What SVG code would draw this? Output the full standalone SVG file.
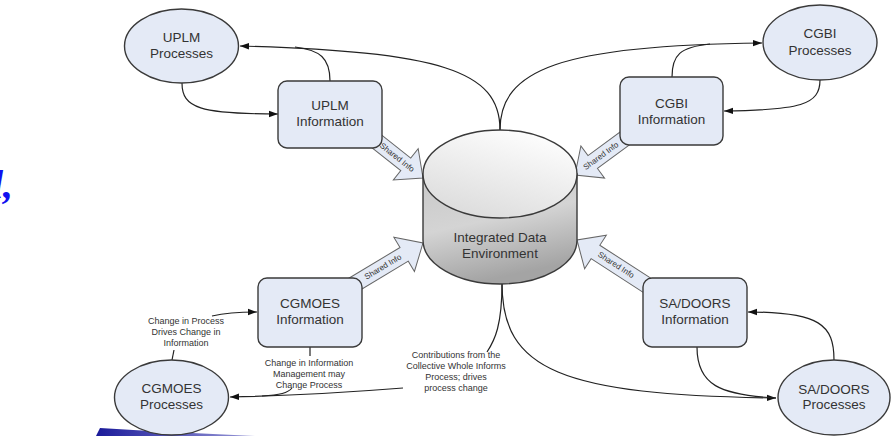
<svg xmlns="http://www.w3.org/2000/svg" width="891" height="436" viewBox="0 0 891 436">
<defs>
<style>
.node{fill:#e4eaf6;stroke:#3a3a3a;stroke-width:1.4}
.lbl{font-family:"Liberation Sans",Arial,sans-serif;font-size:13.5px;fill:#333;text-anchor:middle}
.small{font-family:"Liberation Sans",Arial,sans-serif;font-size:9px;fill:#333;text-anchor:middle}
.si{font-family:"Liberation Sans",Arial,sans-serif;font-size:8px;fill:#333;text-anchor:middle;dominant-baseline:central}
.con{fill:none;stroke:#222;stroke-width:1.2}
.blk{fill:#e4eaf6;stroke:#666;stroke-width:1}
</style>
<marker id="ah" markerUnits="userSpaceOnUse" markerWidth="10" markerHeight="8" refX="9" refY="4" orient="auto">
<path d="M0,0.8 L9,4 L0,7.2 Z" fill="#111"/>
</marker>
<polygon id="blockArrow" points="-90,-8 -22,-8 -22,-20 0,0 -22,20 -22,8 -90,8"/>
<linearGradient id="gTop" x1="0.8" y1="0" x2="0.3" y2="1">
<stop offset="0" stop-color="#ffffff"/>
<stop offset="1" stop-color="#dcdcdc"/>
</linearGradient>
<linearGradient id="gBody" x1="0" y1="0" x2="0.3" y2="1">
<stop offset="0" stop-color="#c8c8c8"/>
<stop offset="0.5" stop-color="#d4d4d4"/>
<stop offset="1" stop-color="#a4a4a4"/>
</linearGradient>
<linearGradient id="gSw" x1="0" y1="0" x2="1" y2="0">
<stop offset="0" stop-color="#1a1a9a"/>
<stop offset="1" stop-color="#9a9ad8"/>
</linearGradient>
</defs>
<rect width="891" height="436" fill="#ffffff"/>

<text x="-8" y="198" font-family="'Liberation Serif',serif" font-style="italic" font-weight="bold" font-size="40" fill="#1010f0">l,</text>
<polygon points="96,436 100,428 150,431 255,436" fill="url(#gSw)"/>

<g id="connectors">
<path class="con" d="M500,130 C500,70 440,52 240,46" marker-end="url(#ah)"/>
<path class="con" d="M500,130 C500,70 560,45 762,43" marker-end="url(#ah)"/>
<path class="con" d="M330,81 C330,58 320,50 295,47"/>
<path class="con" d="M672,77 C672,55 680,47 710,44"/>
<path class="con" d="M182,83 C182,108 200,114 278,114" marker-end="url(#ah)"/>
<path class="con" d="M820,80 C820,105 800,110 724,111" marker-end="url(#ah)"/>
<path class="con" d="M502,283 C502,325 495,340 487,352"/>
<path class="con" d="M502,283 C502,370 560,395 776,398" marker-end="url(#ah)"/>
<path class="con" d="M697,347 C697,385 720,395 776,398"/>
<path class="con" d="M834,360 C834,325 820,312 748,312" marker-end="url(#ah)"/>
<path class="con" d="M403,388 C340,393 280,396 230,397" marker-end="url(#ah)"/>
<path class="con" d="M292,388 C288,393 280,395 262,396"/>
<path class="con" d="M310,347 L310,356"/>
<path class="con" d="M172,360 L174,350"/>
<path class="con" d="M212,316 C225,313 240,312 257,312" marker-end="url(#ah)"/>

<use href="#blockArrow" class="blk" transform="translate(423,178) rotate(38.4)"/>
<use href="#blockArrow" class="blk" transform="translate(575,175) rotate(143.7)"/>
<use href="#blockArrow" class="blk" transform="translate(423,243) rotate(-31)"/>
<use href="#blockArrow" class="blk" transform="translate(577,240) rotate(-147.1)"/>

<text class="small" x="456" y="358">Contributions from the</text>
<text class="small" x="456" y="369">Collective Whole Informs</text>
<text class="small" x="456" y="380">Process; drives</text>
<text class="small" x="456" y="391">process change</text>

<text class="small" x="186" y="324">Change in Process</text>
<text class="small" x="186" y="335">Drives Change in</text>
<text class="small" x="186" y="346">Information</text>

<text class="small" x="309" y="366">Change in Information</text>
<text class="small" x="309" y="377">Management may</text>
<text class="small" x="309" y="388">Change Process</text>
</g>

<g id="ide">
<path d="M423,174 L423,240 A77,44 0 0 0 577,240 L577,174 Z" fill="url(#gBody)" stroke="#3a3a3a" stroke-width="1.4"/>
<ellipse cx="500" cy="174" rx="77" ry="44" fill="url(#gTop)" stroke="#3a3a3a" stroke-width="1.4"/>
<text class="lbl" x="500" y="242">Integrated Data</text>
<text class="lbl" x="500" y="258">Environment</text>
</g>

<g id="uplm-processes">
<ellipse class="node" cx="181.5" cy="46" rx="57" ry="37"/>
<text class="lbl" x="181.5" y="42">UPLM</text>
<text class="lbl" x="181.5" y="58">Processes</text>
</g>
<g id="uplm-information">
<rect class="node" x="278" y="81" width="104" height="67" rx="9"/>
<text class="lbl" x="330" y="110">UPLM</text>
<text class="lbl" x="330" y="126">Information</text>
</g>

<g id="cgbi-processes">
<ellipse class="node" cx="820" cy="42.5" rx="57" ry="37.5"/>
<text class="lbl" x="820" y="38">CGBI</text>
<text class="lbl" x="820" y="55">Processes</text>
</g>
<g id="cgbi-information">
<rect class="node" x="620" y="77" width="103" height="68" rx="9"/>
<text class="lbl" x="671.5" y="108">CGBI</text>
<text class="lbl" x="671.5" y="124">Information</text>
</g>

<g id="cgmoes-information">
<rect class="node" x="258" y="278" width="104" height="69" rx="9"/>
<text class="lbl" x="310" y="308">CGMOES</text>
<text class="lbl" x="310" y="324">Information</text>
</g>
<g id="cgmoes-processes">
<ellipse class="node" cx="171.5" cy="397.5" rx="57" ry="37.5"/>
<text class="lbl" x="171.5" y="393">CGMOES</text>
<text class="lbl" x="171.5" y="409">Processes</text>
</g>

<g id="sadoors-information">
<rect class="node" x="643" y="278" width="104" height="69" rx="9"/>
<text class="lbl" x="695" y="308">SA/DOORS</text>
<text class="lbl" x="695" y="324">Information</text>
</g>
<g id="sadoors-processes">
<ellipse class="node" cx="834" cy="397.5" rx="56" ry="37.5"/>
<text class="lbl" x="834" y="394">SA/DOORS</text>
<text class="lbl" x="834" y="409">Processes</text>
</g>

<g id="shared-info-labels">
<text class="si" transform="translate(397,157.5) rotate(38.4)">Shared Info</text>
<text class="si" transform="translate(601,156) rotate(-36.3)">Shared Info</text>
<text class="si" transform="translate(383,267) rotate(-31)">Shared Info</text>
<text class="si" transform="translate(616,265) rotate(32.9)">Shared Info</text>
</g>
</svg>
